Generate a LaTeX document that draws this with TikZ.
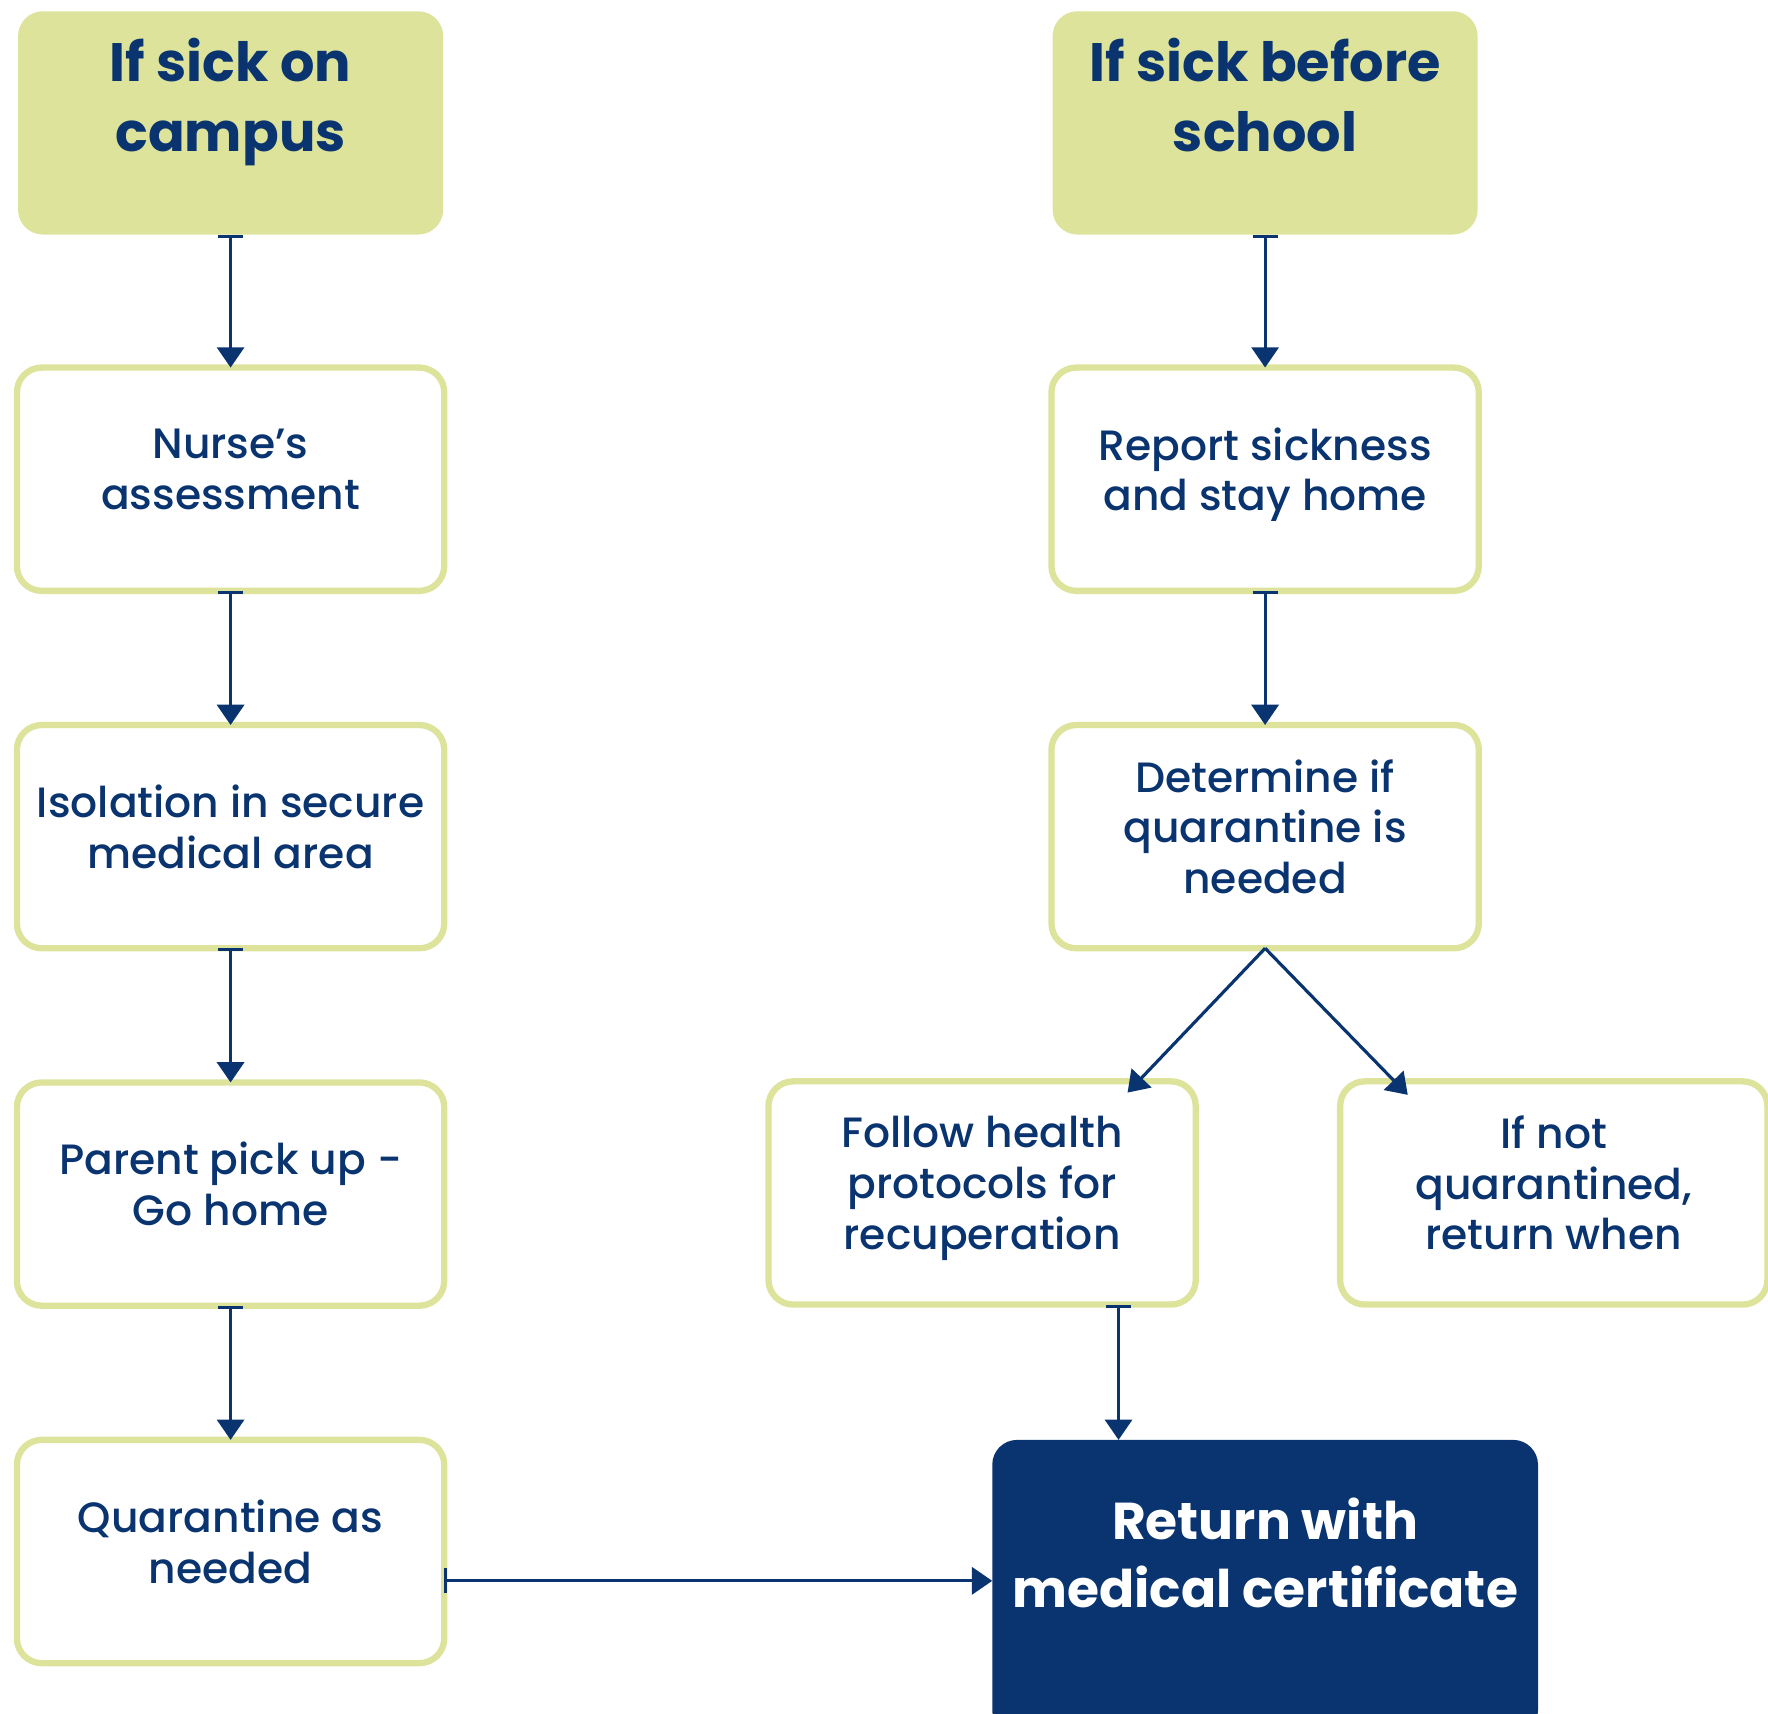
\documentclass[tikz,border=0pt]{standalone}
\usepackage{fontspec}
\setmainfont{Poppins}[UprightFont={* Medium}, BoldFont={* Bold}]
\usetikzlibrary{positioning, arrows.meta}

\definecolor{navy}{HTML}{0A346F}
\definecolor{lime}{HTML}{DDE39B}

\tikzset{
	headbox/.style={rectangle, rounded corners=11pt, fill=lime, text=navy, align=center,
		font=\fontsize{24}{31}\selectfont\bfseries, minimum width=188.5pt,
		minimum height=99pt, text depth=25pt, inner sep=0pt, outer sep=0pt},
	stepbox/.style={rectangle, rounded corners=11pt, draw=lime, line width=2.8pt, fill=white,
		text=navy, align=center, font=\fontsize{18.8}{22.5}\selectfont,
		minimum width=189.5pt, minimum height=99pt, text depth=9pt, inner sep=0pt, outer sep=0pt},
	lastbox/.style={headbox, fill=navy, text=white, minimum width=242pt,
		minimum height=131pt, text depth=31pt, font=\fontsize{23}{30.5}\selectfont\bfseries},
	flow/.style={draw=navy, line width=1.4pt, {Bar[width=11pt]}-{Triangle[width=12pt,length=9pt]}},
	split/.style={draw=navy, line width=1.4pt, -{Triangle[width=12pt,length=9pt]}},
}

\begin{document}
\begin{tikzpicture}
		\useasboundingbox (0,0) rectangle (784pt,-760pt);

		% Add the two starting boxes
		\node[headbox] (camp) at (102.25pt,-54.5pt) {If sick on\\campus};
		\node[headbox, right=270.25pt of camp] (sick) {If sick before\\school};

		% Left column
		\node[stepbox, below=59pt of camp]   (nurse)  {Nurse’s\\assessment};
		\node[stepbox, below=59.5pt of nurse]  (iso)    {Isolation in secure\\medical area};
		\node[stepbox, below=59.5pt of iso]    (parent) {Parent pick up -\\Go home};
		\node[stepbox, below=59.5pt of parent] (quar)   {Quarantine as\\needed};

		% Right column
		\node[stepbox, below=59pt of sick]     (report) {Report sickness\\and stay home};
		\node[stepbox, below=59.5pt of report] (det)    {Determine if\\quarantine is\\needed};
		\node[stepbox, below=59pt of det, xshift=-125.5pt] (follow) {Follow health\\protocols for\\recuperation};
		\node[stepbox, right=64pt of follow]   (ifnot)  {If not\\quarantined,\\return when};
		\node[lastbox, anchor=north] (ret) at (det.south |- quar.north) {Return with\\medical certificate};

		% Connect the boxes with arrows
		\draw[flow] (camp) -- (nurse);
		\draw[flow] (nurse) -- (iso);
		\draw[flow] (iso) -- (parent);
		\draw[flow] (parent) -- (quar);
		\draw[flow] (sick) -- (report);
		\draw[flow] (report) -- (det);
		\draw[split] (det.south) -- ([xshift=64.5pt,yshift=-5pt]follow.north);
		\draw[split] (det.south) -- ([xshift=-64.75pt,yshift=-6pt]ifnot.north);
		\draw[flow] ([xshift=60.5pt]follow.south) coordinate (f1) -- (f1 |- ret.north);
		\draw[flow] ([yshift=-13pt]quar.east) coordinate (q1) -- (q1 -| ret.west);
	\end{tikzpicture}
\end{document}
